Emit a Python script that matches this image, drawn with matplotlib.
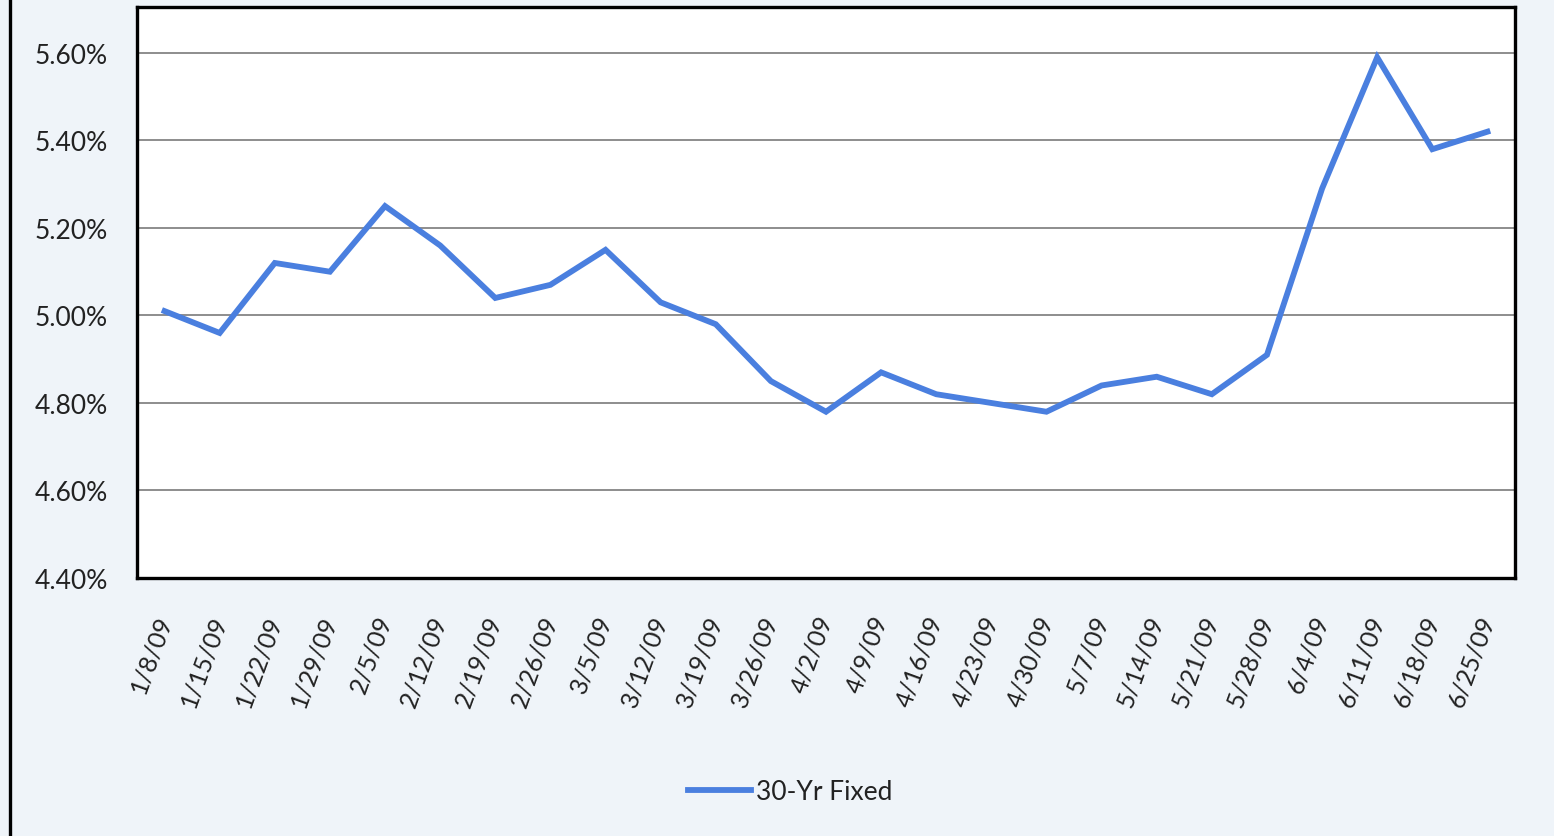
import matplotlib.pyplot as plt
from matplotlib.lines import Line2D
from matplotlib.ticker import FuncFormatter

plt.rcParams['font.family'] = ['Lato', 'DejaVu Sans']

dates = ['1/8/09', '1/15/09', '1/22/09', '1/29/09', '2/5/09', '2/12/09', '2/19/09',
         '2/26/09', '3/5/09', '3/12/09', '3/19/09', '3/26/09', '4/2/09', '4/9/09',
         '4/16/09', '4/23/09', '4/30/09', '5/7/09', '5/14/09', '5/21/09', '5/28/09',
         '6/4/09', '6/11/09', '6/18/09', '6/25/09']
rate_30yr = [5.01, 4.96, 5.12, 5.10, 5.25, 5.16, 5.04, 5.07, 5.15, 5.03, 4.98, 4.85,
             4.78, 4.87, 4.82, 4.80, 4.78, 4.84, 4.86, 4.82, 4.91, 5.29, 5.59, 5.38, 5.42]
y_ticks = [4.40, 4.60, 4.80, 5.00, 5.20, 5.40, 5.60]

bg = '#eff4f9'
fig = plt.figure(figsize=(15.54, 8.37), dpi=100, facecolor=bg)
ax = fig.add_axes([137 / 1554, 1 - 579 / 837, (1515 - 137) / 1554, (579 - 8) / 837])
ax.set_facecolor('white')

x = list(range(len(dates)))
ax.plot(x, rate_30yr, color='#4a7fdf', lw=4.2, solid_joinstyle='miter', label='30-Yr Fixed')

ax.set_xlim(-0.5, len(dates) - 0.5)
ax.set_ylim(4.40, 5.705)
ax.set_yticks(y_ticks)
ax.yaxis.set_major_formatter(FuncFormatter(lambda v, p: f'{v:.2f}%'))
ax.grid(axis='y', color='#858585', lw=1.3)
ax.set_axisbelow(True)

ax.set_xticks(x)
ax.set_xticklabels(dates, rotation=70, ha='right', va='center', rotation_mode='anchor')
ax.tick_params(axis='x', length=0, pad=27, labelsize=18, labelcolor='#222222')
ax.tick_params(axis='y', length=0, pad=21, labelsize=19, labelcolor='#222222')

for s in ax.spines.values():
    s.set_color('black')
    s.set_linewidth(2.4)

# outer chart frame edge on the left
fig.add_artist(Line2D([10 / 1554, 10 / 1554], [0, 1], color='black', lw=2.4,
                      transform=fig.transFigure))

fig.legend(loc='center', bbox_to_anchor=(790 / 1554, 1 - 793 / 837), frameon=False,
           fontsize=19, handlelength=2.4, handletextpad=0.2, labelcolor='#222222')

fig.savefig('out.png', dpi=100, facecolor=bg)
